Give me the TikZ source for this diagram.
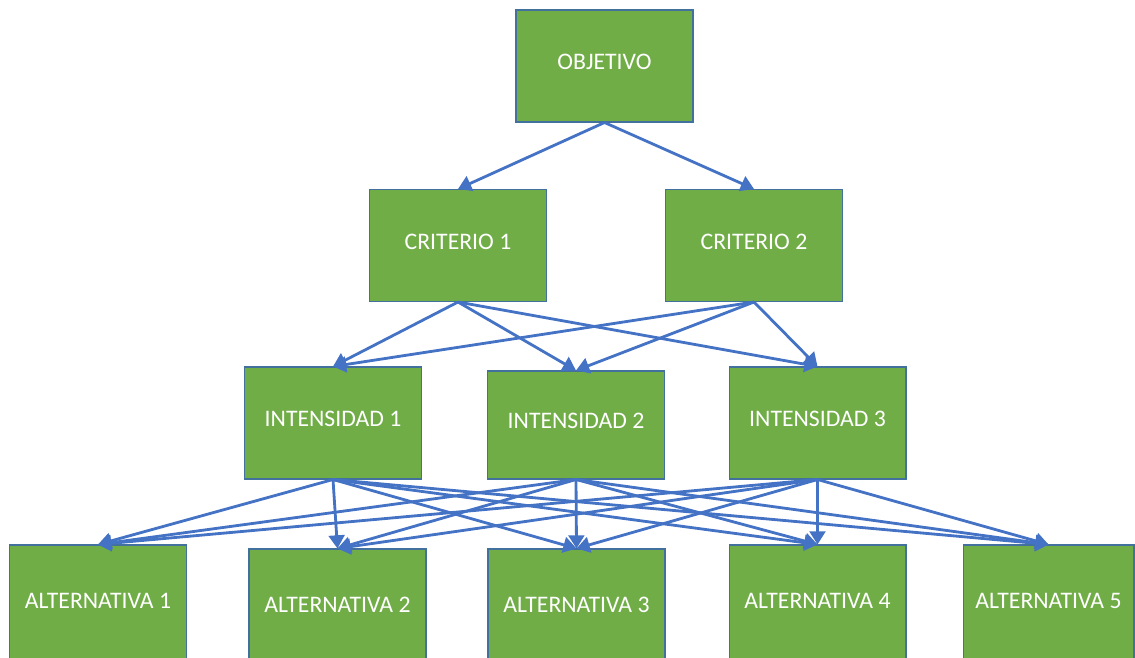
\documentclass[tikz,border=0pt]{standalone}
\usepackage{fontspec}
\setmainfont{Carlito}
\usetikzlibrary{arrows.meta}
\definecolor{boxgreen}{HTML}{70AD47}
\definecolor{boxline}{HTML}{41719C}
\definecolor{arrowblue}{HTML}{4472C4}

\begin{document}
\begin{tikzpicture}[x=0.02cm,y=-0.02cm,>={Triangle[length=7.5pt,width=9pt]},
      every node/.style={font=\fontsize{13.5}{16}\selectfont,text=white},
      level/.style={draw=boxline,fill=boxgreen,line width=0.6pt,minimum width=3.54cm,minimum height=2.24cm,inner sep=0pt,text depth=4.6pt},
      conn/.style={->,draw=arrowblue,line width=1.6pt}]
      \useasboundingbox (0,0) rectangle (1135,658);
      \clip (0,0) rectangle (1135,658);
      \node[level] (obj) at (604.5,66) {OBJETIVO};
      \node[level] (crit1) at (458,245.5) {CRITERIO 1};
      \node[level] (crit2) at (754,245.5) {CRITERIO 2};
      \node[level] (int1) at (333,423) {INTENSIDAD 1};
      \node[level,minimum height=2.16cm] (int2) at (576,425) {INTENSIDAD 2};
      \node[level] (int3) at (817.5,423) {INTENSIDAD 3};
      \node[level,minimum height=2.4cm] (alt1) at (98,605) {ALTERNATIVA 1};
      \node[level,minimum height=2.4cm] (alt2) at (337.5,609) {ALTERNATIVA 2};
      \node[level,minimum height=2.4cm] (alt3) at (576.5,609) {ALTERNATIVA 3};
      \node[level,minimum height=2.4cm] (alt4) at (817.5,605) {ALTERNATIVA 4};
      \node[level,minimum height=2.4cm,minimum width=3.42cm] (alt5) at (1048.5,605) {ALTERNATIVA 5};
      \foreach \c in {crit1,crit2}
        \draw[conn] (obj.south) -- (\c.north);
      \foreach \c in {crit1,crit2}
        \foreach \i in {int1,int2,int3}
          \draw[conn] (\c.south) -- (\i.north);
      \foreach \i in {int1,int2,int3}
        \foreach \a in {alt1,alt2,alt3,alt4,alt5}
          \draw[conn] (\i.south) -- (\a.north);
    \end{tikzpicture}
\end{document}
